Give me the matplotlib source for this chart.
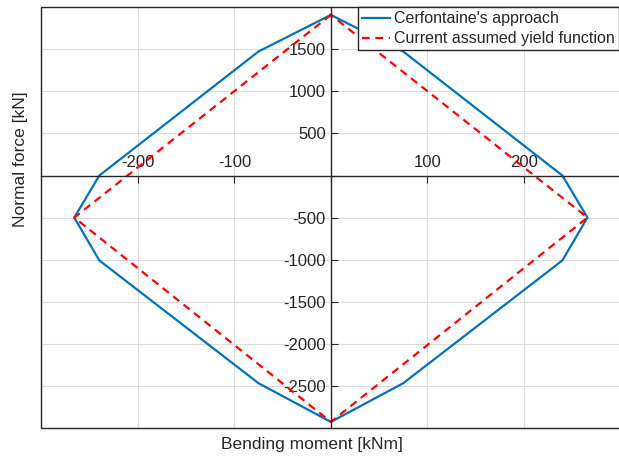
import matplotlib.pyplot as plt
from matplotlib.patches import Rectangle

# Interaction diagram M-N
momento_cerf = [0, -75, -240, -266, -240, -75, 0, 75, 240, 266, 240, 75, 0]
normal_cerf = [1910, 1475, 0, -500, -1010, -2470, -2930, -2470, -1010, -500, 0, 1475, 1910]

momento_yield = [0, -266, 0, 266, 0]
normal_yield = [1910, -500, -2930, -500, 1910]

xticks = [-200, -100, 0, 100, 200]
yticks = [-2500, -2000, -1500, -1000, -500, 0, 500, 1000, 1500]

cor_texto = '#262626'
plt.rcParams['font.family'] = ['Liberation Sans', 'DejaVu Sans']
plt.rcParams['font.size'] = 12

fig = plt.figure(figsize=(6.19, 4.59), dpi=100)
ax = fig.add_axes([0.067, 0.068, 0.935, 0.916])

ax.plot(momento_cerf, normal_cerf, color='#0072BD', linewidth=1.6,
        label="Cerfontaine's approach")
ax.plot(momento_yield, normal_yield, color='#FF0000', linewidth=1.6,
        linestyle='--', dashes=(3.5, 2.5), label='Current assumed yield function')

ax.set_xlim(-300, 300)
ax.set_ylim(-3000, 2000)

# eixos passando pela origem
for lado in ['bottom', 'right']:
    ax.spines[lado].set_visible(False)
ax.spines['left'].set_position(('data', 0))
ax.spines['top'].set_position(('data', 0))
for lado in ['left', 'top']:
    ax.spines[lado].set_color(cor_texto)
    ax.spines[lado].set_linewidth(1.0)

ax.xaxis.set_ticks_position('top')
ax.set_xticks(xticks)
ax.set_xticklabels([str(v) if v != 0 else '' for v in xticks])
ax.set_yticks(yticks)
ax.set_yticklabels([str(v) if v != 0 else '' for v in yticks])
ax.tick_params(axis='both', direction='in', length=5, width=0.8,
               colors=cor_texto, labelsize=12)
ax.tick_params(axis='x', pad=4)

# grade em todos os ticks, incluindo as bordas
for v in [-300, -200, -100, 100, 200, 300]:
    ax.axvline(v, color='#dcdcdc', linewidth=0.8, zorder=0)
for v in [-3000, -2500, -2000, -1500, -1000, -500, 500, 1000, 1500, 2000]:
    ax.axhline(v, color='#dcdcdc', linewidth=0.8, zorder=0)

# caixa em volta do gráfico
ax.add_patch(Rectangle((0, 0), 1, 1, transform=ax.transAxes, fill=False,
                       edgecolor=cor_texto, linewidth=1.0, clip_on=False, zorder=5))

ax.set_xlabel('Bending moment [kNm]', color=cor_texto, fontsize=12.5)
ax.set_ylabel('Normal force [kN]', color=cor_texto, fontsize=12.5)
ax.xaxis.set_label_coords(0.468, -0.022)
ax.yaxis.set_label_coords(-0.024, 0.64)

leg = ax.legend(loc='upper right', bbox_to_anchor=(0.998, 1.0), borderaxespad=0,
                fancybox=False, framealpha=1, edgecolor=cor_texto,
                handlelength=1.75, handletextpad=0.25, labelspacing=0.3,
                borderpad=0.25, fontsize=11.5)
leg.get_frame().set_linewidth(1.0)
for t in leg.get_texts():
    t.set_color(cor_texto)

plt.savefig('out.png', dpi=100)
